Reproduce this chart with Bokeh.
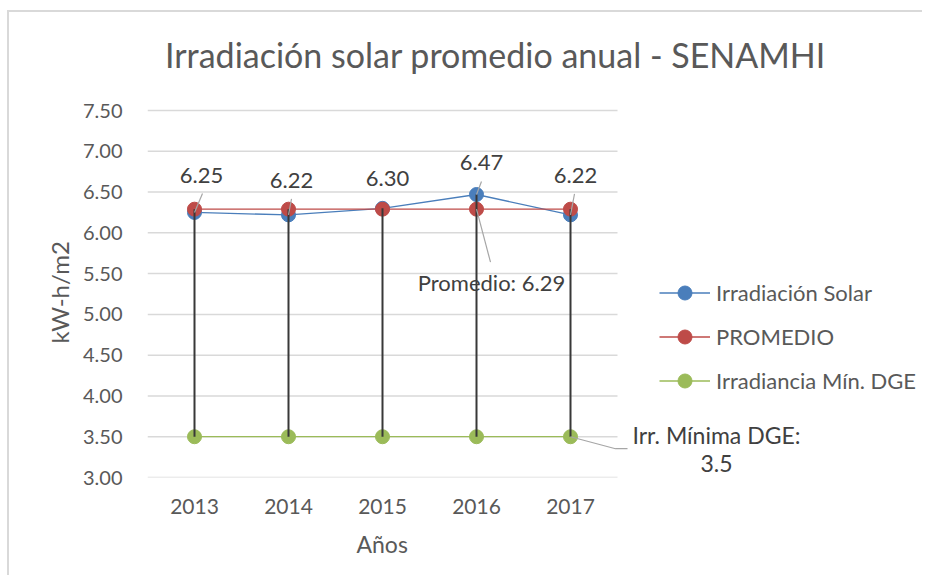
from bokeh.plotting import figure
from bokeh.models import ColumnDataSource, Range1d, FixedTicker, Legend, LegendItem, Title
from bokeh.embed import file_html
from bokeh.resources import INLINE
from bokeh.core.properties import value

# ---------------- data ----------------
years = ["2013", "2014", "2015", "2016", "2017"]
irradiacion = [6.25, 6.22, 6.30, 6.47, 6.22]
promedio = [6.29, 6.29, 6.29, 6.29, 6.29]
minimo_dge = [3.5, 3.5, 3.5, 3.5, 3.5]
y_ticks = [3.0, 3.5, 4.0, 4.5, 5.0, 5.5, 6.0, 6.5, 7.0, 7.5]
y_tick_labels = ["3.00", "3.50", "4.00", "4.50", "5.00", "5.50", "6.00", "6.50", "7.00", "7.50"]
title_text = "Irradiación solar promedio anual - SENAMHI"
x_title = "Años"
y_title = "kW-h/m2"

# ---------------- style ----------------
FONT = "Lato"
BLUE = "#4A7EBB"
RED = "#BE4B48"
GREEN = "#9BBB59"
GRID = "#D9D9D9"
TXT = "#595959"
LBL = "#404040"
LEADER = "#A6A6A6"

# canvas geometry (px)
W, H = 915, 565
ML, MB = 138, 100
FW, FH = W - ML, H - MB          # frame covers the rest, so side texts are not clipped
GW, GH = 470, 367                # size of the gridded plot area inside the frame

x_lo, x_cat_hi = -0.5, len(years) - 0.5
y_lo, y_grid_hi = y_ticks[0], y_ticks[-1]
px_x = (x_cat_hi - x_lo) / GW
px_y = (y_grid_hi - y_lo) / GH
x_hi = x_lo + FW * px_x
y_hi = y_lo + FH * px_y

xs = list(range(len(years)))
hi = [max(a, b, c) for a, b, c in zip(irradiacion, promedio, minimo_dge)]
lo = [min(a, b, c) for a, b, c in zip(irradiacion, promedio, minimo_dge)]

p = figure(width=W, height=H, x_range=Range1d(x_lo, x_hi), y_range=Range1d(y_lo, y_hi),
           output_backend="svg", toolbar_location=None, title=None,
           min_border_left=ML, min_border_right=0, min_border_top=0, min_border_bottom=MB)
p.styles = {"margin-left": "7px", "margin-top": "10px",
            "border-left": "2px solid #D9D9D9", "border-top": "2px solid #D9D9D9"}
p.outline_line_color = None
p.background_fill_color = "white"
p.border_fill_color = "white"

# axes
p.xaxis.ticker = FixedTicker(ticks=xs)
p.xaxis.major_label_overrides = {i: y for i, y in enumerate(years)}
p.yaxis.ticker = FixedTicker(ticks=y_ticks)
p.yaxis.major_label_overrides = {t: l for t, l in zip(y_ticks, y_tick_labels)}
for ax in (p.xaxis[0], p.yaxis[0]):
    ax.major_tick_line_color = None
    ax.minor_tick_line_color = None
    ax.axis_line_color = None
    ax.major_label_text_font = FONT
    ax.major_label_text_color = TXT
p.yaxis.major_label_text_font_size = "20px"
p.xaxis.major_label_text_font_size = "21px"
p.yaxis.major_label_standoff = 19
p.xaxis.major_label_standoff = 15
p.xgrid.grid_line_color = None
p.ygrid.grid_line_color = None

# axis titles, centred on the gridded area (frame is wider than it)
p.add_layout(Title(text=y_title, align="left", offset=134, standoff=11,
                   text_font=FONT, text_font_size="24px", text_font_style="normal",
                   text_color=TXT), "left")
p.add_layout(Title(text=x_title, align="left", offset=209, standoff=23,
                   text_font=FONT, text_font_size="23px", text_font_style="normal",
                   text_color=TXT), "below")

# horizontal gridlines limited to the plot area
p.segment(x0=[x_lo] * len(y_ticks), y0=y_ticks, x1=[x_cat_hi] * len(y_ticks), y1=y_ticks,
          line_color=GRID, line_width=1.5)

src = ColumnDataSource(dict(x=xs, irr=irradiacion, prom=promedio, mn=minimo_dge, hi=hi, lo=lo))

l1 = p.line("x", "irr", source=src, line_color=BLUE, line_width=1.3)
m1 = p.scatter("x", "irr", source=src, size=14, fill_color=BLUE, line_color=BLUE)
l2 = p.line("x", "prom", source=src, line_color=RED, line_width=1.3)
m2 = p.scatter("x", "prom", source=src, size=14, fill_color=RED, line_color=RED)
l3 = p.line("x", "mn", source=src, line_color=GREEN, line_width=1.3)
m3 = p.scatter("x", "mn", source=src, size=14, fill_color=GREEN, line_color=GREEN)

# high-low lines
p.segment(x0="x", y0="lo", x1="x", y1="hi", source=src, line_color="#383838", line_width=2)

# data labels for Irradiación Solar (offsets in screen px)
lab_dx = [7, 3, 5, 5, 5]
lab_dy = [-37, -34, -30, -32, -39]
lead_dx = [8, 3, 0, 5, 4]
lead_dy = [-19, -16, 0, -13, -21]
lead = ColumnDataSource(dict(
    x0=xs, y0=irradiacion,
    x1=[x + d * px_x for x, d in zip(xs, lead_dx)],
    y1=[y - d * px_y for y, d in zip(irradiacion, lead_dy)]))
p.segment(x0="x0", y0="y0", x1="x1", y1="y1", source=lead, line_color=LEADER, line_width=1.2)
lab = ColumnDataSource(dict(x=xs, y=irradiacion, text=[f"{v:.2f}" for v in irradiacion],
                            xo=lab_dx, yo=lab_dy))
p.text("x", "y", text="text", x_offset="xo", y_offset="yo", source=lab,
       text_font=value(FONT), text_font_size="22px", text_color=LBL,
       text_align="center", text_baseline="middle")

# Promedio label (at 2016)
k = 3
p.line([xs[k], xs[k] + 14 * px_x], [promedio[k], promedio[k] - 53 * px_y],
       line_color=LEADER, line_width=1.2)
p.text([xs[k]], [promedio[k]], text=[f"Promedio: {promedio[k]:.2f}"], x_offset=15, y_offset=73,
       text_font=value(FONT), text_font_size="22px", text_color=LBL,
       text_align="center", text_baseline="middle")

# Irr. Mínima label (at 2017)
k = 4
p.line([xs[k], xs[k] + 45 * px_x, xs[k] + 57 * px_x],
       [minimo_dge[k], minimo_dge[k] - 12 * px_y, minimo_dge[k] - 12 * px_y],
       line_color=LEADER, line_width=1.2)
p.text([xs[k]], [minimo_dge[k]], text=[f"Irr. Mínima DGE:\n{minimo_dge[k]:g}"], x_offset=146, y_offset=12,
       text_font=value(FONT), text_font_size="23px", text_color=LBL,
       text_align="center", text_baseline="middle", text_line_height=1.0)

# chart title (placed above the gridded area)
p.text([x_lo + 348 * px_x], [y_grid_hi + 56 * px_y], text=[title_text],
       text_font=value(FONT), text_font_size="34px", text_color=TXT,
       text_align="center", text_baseline="middle")

legend = Legend(items=[LegendItem(label="Irradiación Solar", renderers=[l1, m1]),
                       LegendItem(label="PROMEDIO", renderers=[l2, m2]),
                       LegendItem(label="Irradiancia Mín. DGE", renderers=[l3, m3])],
                location=(512, 79), glyph_width=51, glyph_height=35, spacing=9,
                label_standoff=6, padding=0, margin=0, border_line_color=None,
                background_fill_alpha=0, label_text_font=FONT, label_text_font_size="22px",
                label_text_color=TXT)
p.add_layout(legend)

open("out.html", "w").write(file_html(p, INLINE))
